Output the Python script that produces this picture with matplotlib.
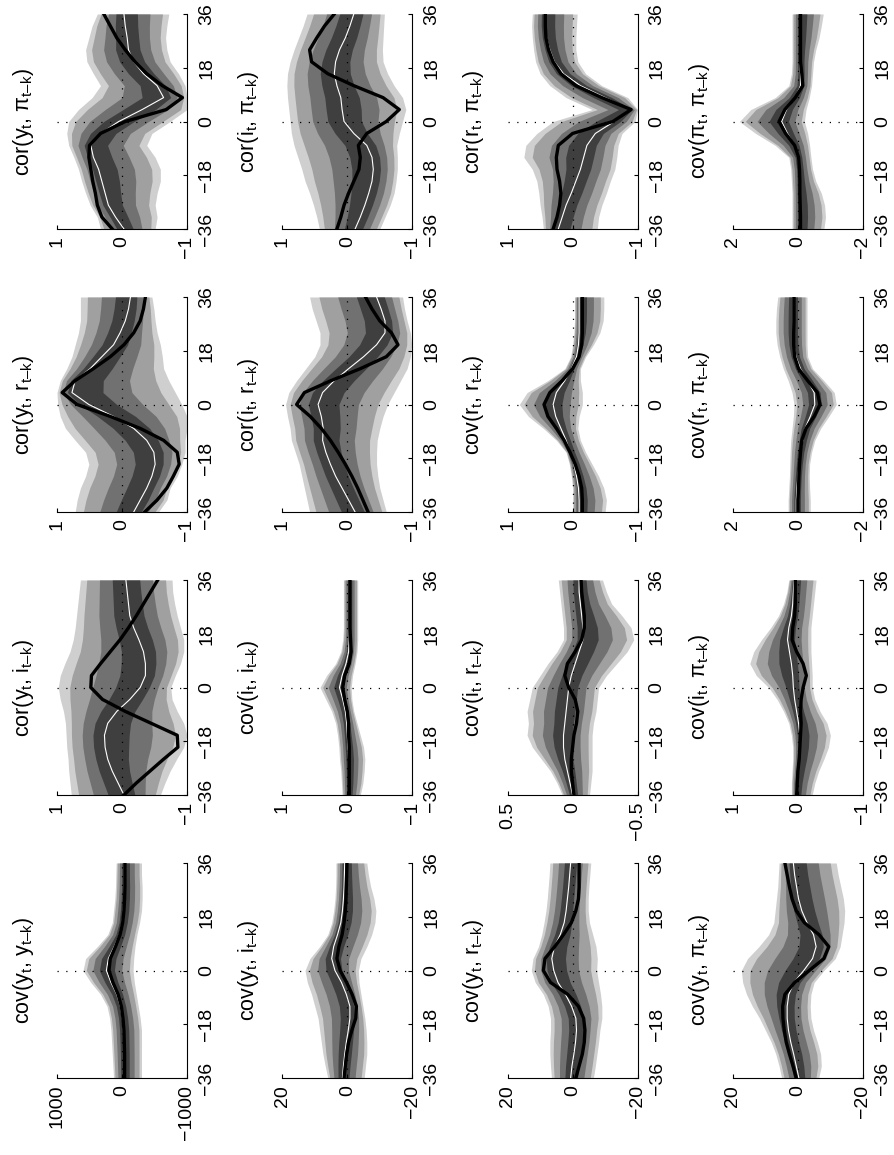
import matplotlib
matplotlib.use('Agg')
import matplotlib.pyplot as plt
import numpy as np

plt.rcParams['font.family'] = ['Liberation Sans', 'DejaVu Sans']
plt.rcParams['mathtext.fontset'] = 'custom'
plt.rcParams['mathtext.rm'] = 'Liberation Sans'
plt.rcParams['mathtext.it'] = 'Liberation Sans'
plt.rcParams['mathtext.default'] = 'regular'

# lag grid (k), shared by every panel
lags = [-36, -32, -28, -24, -20, -16, -12, -8, -4, 0, 4, 8, 12, 16, 20, 24, 28, 32, 36]

# ---- first column of the page: y with the others ----
cor_y_pi_black = [0.15, 0.31, 0.38, 0.41, 0.45, 0.48, 0.51, 0.50, 0.33, -0.05, -0.68, -0.93, -0.62, -0.38, -0.20, -0.05, 0.08, 0.18, 0.28]
cor_y_pi_median = [-0.03, 0.10, 0.21, 0.26, 0.31, 0.36, 0.44, 0.48, 0.33, 0.05, -0.31, -0.64, -0.54, -0.33, -0.18, -0.10, -0.08, -0.05, -0.03]
cor_y_pi_high = [0.33, 0.38, 0.49, 0.56, 0.62, 0.67, 0.74, 0.82, 0.85, 0.82, 0.67, 0.46, 0.33, 0.44, 0.54, 0.56, 0.51, 0.46, 0.38]
cor_y_pi_low = [-0.51, -0.54, -0.51, -0.54, -0.59, -0.59, -0.51, -0.38, -0.46, -0.74, -1.0, -1.0, -0.97, -0.87, -0.74, -0.69, -0.67, -0.69, -0.72]

cor_y_r_black = [-0.35, -0.54, -0.69, -0.79, -0.88, -0.85, -0.64, -0.28, 0.18, 0.69, 0.92, 0.72, 0.44, 0.18, -0.03, -0.18, -0.28, -0.33, -0.36]
cor_y_r_median = [-0.18, -0.28, -0.38, -0.46, -0.51, -0.49, -0.38, -0.18, 0.13, 0.51, 0.77, 0.72, 0.49, 0.31, 0.13, 0.03, -0.05, -0.10, -0.13]
cor_y_r_high = [0.72, 0.69, 0.64, 0.56, 0.51, 0.56, 0.72, 0.87, 0.95, 0.99, 1.0, 0.95, 0.85, 0.77, 0.72, 0.67, 0.64, 0.64, 0.64]
cor_y_r_low = [-0.56, -0.69, -0.74, -0.85, -0.92, -0.97, -0.97, -1.0, -1.0, -0.92, -0.82, -0.72, -0.64, -0.62, -0.59, -0.54, -0.51, -0.49, -0.46]

cor_y_i_black = [-0.03, -0.22, -0.43, -0.64, -0.86, -0.85, -0.45, -0.05, 0.30, 0.48, 0.47, 0.33, 0.18, 0.03, -0.10, -0.22, -0.33, -0.44, -0.55]
cor_y_i_median = [-0.03, 0.06, 0.15, 0.22, 0.26, 0.27, 0.22, 0.08, -0.12, -0.28, -0.36, -0.36, -0.33, -0.26, -0.18, -0.12, -0.10, -0.08, -0.06]
cor_y_i_high = [0.78, 0.80, 0.82, 0.83, 0.85, 0.86, 0.87, 0.90, 0.95, 0.98, 0.95, 0.88, 0.80, 0.75, 0.72, 0.70, 0.68, 0.66, 0.64]
cor_y_i_low = [-0.59, -0.66, -0.74, -0.84, -0.95, -1.0, -0.95, -0.85, -0.77, -0.75, -0.82, -0.90, -0.95, -0.95, -0.90, -0.85, -0.81, -0.78, -0.77]

cov_y_y_black = [-40, -40, -40, -35, -30, -15, 10, 60, 140, 200, 180, 100, 30, -10, -30, -40, -45, -45, -45]
cov_y_y_median = [-30, -30, -30, -25, -20, -5, 25, 80, 170, 240, 210, 120, 40, 0, -20, -30, -35, -35, -35]
cov_y_y_high = [130, 140, 150, 160, 170, 190, 230, 330, 480, 600, 560, 380, 220, 150, 130, 110, 100, 95, 90]
cov_y_y_low = [-300, -300, -300, -300, -300, -280, -250, -220, -190, -170, -180, -200, -230, -270, -300, -310, -310, -300, -300]

# ---- second column ----
cor_i_pi_black = [0.16, 0.10, 0.05, -0.02, -0.10, -0.18, -0.20, -0.17, -0.30, -0.60, -0.80, -0.55, -0.10, 0.30, 0.55, 0.58, 0.47, 0.35, 0.20]
cor_i_pi_median = [-0.12, -0.20, -0.27, -0.33, -0.38, -0.40, -0.38, -0.30, -0.10, 0.05, 0.08, 0.10, 0.16, 0.20, 0.18, 0.12, 0.03, -0.04, -0.10]
cor_i_pi_high = [0.43, 0.47, 0.52, 0.58, 0.65, 0.70, 0.76, 0.82, 0.86, 0.88, 0.90, 0.92, 0.93, 0.92, 0.88, 0.82, 0.75, 0.68, 0.62]
cor_i_pi_low = [-0.50, -0.58, -0.66, -0.72, -0.75, -0.77, -0.77, -0.76, -0.80, -0.85, -0.90, -0.85, -0.72, -0.62, -0.55, -0.54, -0.55, -0.56, -0.57]

cor_i_r_black = [-0.32, -0.24, -0.16, -0.07, 0.03, 0.14, 0.26, 0.40, 0.57, 0.78, 0.66, 0.25, -0.20, -0.60, -0.78, -0.68, -0.50, -0.38, -0.28]
cor_i_r_median = [-0.12, -0.02, 0.08, 0.18, 0.26, 0.33, 0.38, 0.37, 0.40, 0.45, 0.38, 0.20, -0.02, -0.25, -0.45, -0.58, -0.58, -0.52, -0.45]
cor_i_r_high = [0.58, 0.62, 0.66, 0.70, 0.74, 0.80, 0.86, 0.88, 0.92, 0.95, 0.90, 0.78, 0.64, 0.50, 0.42, 0.42, 0.48, 0.54, 0.58]
cor_i_r_low = [-0.60, -0.55, -0.50, -0.47, -0.45, -0.45, -0.46, -0.50, -0.55, -0.62, -0.72, -0.82, -0.92, -0.97, -0.99, -0.97, -0.92, -0.88, -0.85]

cov_i_i_black = [-0.03, -0.03, -0.03, -0.03, -0.03, -0.02, -0.02, 0.0, 0.04, 0.07, 0.04, -0.03, -0.06, -0.05, -0.04, -0.04, -0.04, -0.04, -0.04]
cov_i_i_median = [-0.02, -0.02, -0.02, -0.02, -0.01, 0.0, 0.01, 0.03, 0.07, 0.12, 0.08, 0.02, -0.02, -0.03, -0.03, -0.03, -0.03, -0.03, -0.03]
cov_i_i_high = [0.08, 0.09, 0.10, 0.12, 0.13, 0.15, 0.18, 0.24, 0.33, 0.42, 0.32, 0.18, 0.10, 0.07, 0.06, 0.06, 0.06, 0.06, 0.06]
cov_i_i_low = [-0.20, -0.24, -0.26, -0.27, -0.25, -0.20, -0.15, -0.10, -0.07, -0.06, -0.08, -0.12, -0.15, -0.16, -0.16, -0.16, -0.16, -0.16, -0.16]

cov_y_i_black = [1.0, 0.6, 0.2, -0.4, -1.4, -2.6, -2.8, -1.5, 0.2, 2.2, 3.2, 2.6, 1.6, 1.0, 0.6, 0.4, 0.3, 0.2, 0.1]
cov_y_i_median = [1.5, 1.2, 0.8, 0.3, -0.3, -0.8, -0.8, 0.3, 1.8, 3.8, 4.8, 4.2, 3.0, 2.0, 1.5, 1.2, 1.0, 0.9, 0.8]
cov_y_i_high = [6.0, 6.8, 7.5, 8.0, 8.5, 9.0, 10.0, 11.0, 12.3, 13.0, 11.5, 8.5, 6.0, 4.8, 4.2, 3.8, 3.6, 3.5, 3.5]
cov_y_i_low = [-5.2, -5.6, -6.0, -6.0, -5.8, -5.4, -4.8, -4.2, -3.6, -3.4, -4.2, -6.0, -7.5, -8.5, -8.8, -8.2, -7.2, -6.5, -6.0]

# ---- third column ----
cor_r_pi_black = [0.30, 0.24, 0.20, 0.18, 0.20, 0.24, 0.25, 0.22, 0.0, -0.62, -0.90, -0.45, -0.05, 0.18, 0.30, 0.37, 0.41, 0.42, 0.42]
cor_r_pi_median = [0.22, 0.16, 0.10, 0.02, -0.05, -0.12, -0.17, -0.22, -0.35, -0.64, -0.88, -0.50, -0.12, 0.14, 0.28, 0.35, 0.40, 0.42, 0.42]
cor_r_pi_high = [0.45, 0.47, 0.50, 0.52, 0.55, 0.62, 0.75, 0.72, 0.55, 0.30, -0.30, 0.10, 0.35, 0.50, 0.57, 0.60, 0.62, 0.63, 0.62]
cor_r_pi_low = [-0.38, -0.40, -0.45, -0.52, -0.58, -0.65, -0.68, -0.70, -0.76, -0.96, -1.0, -0.85, -0.45, -0.20, -0.08, -0.05, -0.05, -0.06, -0.07]

cov_r_r_black = [-0.15, -0.15, -0.14, -0.10, -0.04, 0.04, 0.13, 0.25, 0.38, 0.44, 0.35, 0.16, 0.0, -0.10, -0.14, -0.15, -0.15, -0.15, -0.15]
cov_r_r_median = [-0.10, -0.10, -0.09, -0.06, -0.02, 0.04, 0.10, 0.18, 0.26, 0.30, 0.25, 0.12, 0.02, -0.06, -0.09, -0.10, -0.10, -0.10, -0.10]
cov_r_r_high = [0.0, 0.0, 0.0, 0.02, 0.05, 0.10, 0.25, 0.45, 0.68, 0.82, 0.70, 0.38, 0.12, 0.03, 0.0, -0.02, -0.03, -0.03, -0.03]
cov_r_r_low = [-0.50, -0.52, -0.48, -0.40, -0.30, -0.20, -0.12, -0.08, -0.10, -0.15, -0.15, -0.12, -0.12, -0.20, -0.32, -0.42, -0.47, -0.48, -0.48]

cov_i_r_black = [-0.01, 0.0, 0.01, 0.01, 0.0, -0.01, -0.03, -0.04, -0.02, 0.03, 0.06, 0.04, -0.02, -0.07, -0.09, -0.09, -0.08, -0.07, -0.065]
cov_i_r_median = [0.0, 0.02, 0.04, 0.06, 0.07, 0.07, 0.06, 0.05, 0.04, 0.03, 0.01, -0.02, -0.05, -0.08, -0.08, -0.07, -0.06, -0.05, -0.05]
cov_i_r_high = [0.08, 0.12, 0.17, 0.24, 0.31, 0.35, 0.34, 0.35, 0.33, 0.31, 0.25, 0.19, 0.12, 0.07, 0.07, 0.08, 0.09, 0.10, 0.11]
cov_i_r_low = [-0.13, -0.14, -0.15, -0.15, -0.15, -0.15, -0.16, -0.18, -0.19, -0.20, -0.26, -0.34, -0.42, -0.47, -0.45, -0.38, -0.30, -0.26, -0.23]

cov_y_r_black = [-1.0, -2.0, -3.0, -3.6, -3.8, -3.4, -1.8, 1.5, 6.8, 9.0, 8.5, 5.5, 2.8, 0.4, -1.0, -1.8, -2.0, -2.0, -2.0]
cov_y_r_median = [0.6, 0.2, -0.4, -0.9, -1.2, -1.0, 0.3, 2.2, 4.5, 5.8, 6.4, 5.6, 3.8, 2.6, 2.0, 1.6, 1.2, 0.9, 0.6]
cov_y_r_high = [6.5, 6.8, 7.0, 7.0, 6.8, 6.8, 7.5, 9.0, 11.5, 12.7, 12.2, 10.5, 9.5, 8.8, 8.2, 7.8, 7.5, 7.2, 7.0]
cov_y_r_low = [-6.4, -7.0, -7.5, -8.0, -8.4, -9.0, -9.0, -8.6, -8.0, -7.4, -7.6, -7.2, -6.2, -5.2, -4.8, -4.8, -5.0, -5.3, -5.6]

# ---- fourth column ----
cov_pi_pi_black = [-0.08, -0.08, -0.07, -0.06, -0.06, -0.05, -0.02, 0.10, 0.38, 0.58, 0.40, 0.08, -0.15, -0.12, -0.08, -0.08, -0.08, -0.08, -0.08]
cov_pi_pi_median = [-0.06, -0.06, -0.06, -0.05, -0.05, -0.04, 0.0, 0.10, 0.32, 0.50, 0.35, 0.08, -0.08, -0.08, -0.06, -0.06, -0.06, -0.06, -0.06]
cov_pi_pi_high = [0.18, 0.18, 0.18, 0.18, 0.20, 0.22, 0.28, 0.70, 1.30, 1.80, 1.45, 0.70, 0.28, 0.20, 0.18, 0.18, 0.18, 0.18, 0.18]
cov_pi_pi_low = [-0.80, -0.85, -0.82, -0.72, -0.55, -0.45, -0.40, -0.36, -0.30, -0.20, -0.25, -0.35, -0.42, -0.45, -0.48, -0.55, -0.65, -0.72, -0.78]

cov_r_pi_black = [0.0, 0.0, -0.02, -0.03, -0.05, -0.08, -0.12, -0.25, -0.50, -0.68, -0.60, -0.30, -0.02, 0.10, 0.13, 0.13, 0.12, 0.12, 0.12]
cov_r_pi_median = [0.05, 0.05, 0.03, 0.0, -0.04, -0.08, -0.15, -0.22, -0.38, -0.52, -0.50, -0.30, -0.08, 0.06, 0.12, 0.14, 0.14, 0.14, 0.14]
cov_r_pi_high = [0.30, 0.30, 0.28, 0.26, 0.25, 0.24, 0.22, 0.18, 0.14, 0.12, 0.18, 0.30, 0.45, 0.56, 0.64, 0.68, 0.68, 0.66, 0.62]
cov_r_pi_low = [-0.38, -0.38, -0.36, -0.35, -0.36, -0.42, -0.52, -0.70, -0.95, -1.18, -1.12, -0.80, -0.45, -0.30, -0.28, -0.28, -0.28, -0.28, -0.28]

cov_i_pi_black = [0.02, 0.01, 0.0, -0.02, -0.03, -0.04, -0.05, -0.04, -0.05, -0.08, -0.13, -0.08, 0.02, 0.09, 0.08, 0.05, 0.04, 0.04, 0.04]
cov_i_pi_median = [0.03, 0.02, 0.0, -0.02, -0.03, -0.03, -0.01, 0.02, 0.05, 0.07, 0.08, 0.10, 0.13, 0.16, 0.14, 0.10, 0.08, 0.07, 0.06]
cov_i_pi_high = [0.10, 0.10, 0.09, 0.08, 0.08, 0.10, 0.14, 0.22, 0.32, 0.45, 0.64, 0.74, 0.68, 0.56, 0.42, 0.30, 0.22, 0.17, 0.14]
cov_i_pi_low = [-0.22, -0.26, -0.32, -0.40, -0.47, -0.50, -0.45, -0.34, -0.26, -0.22, -0.22, -0.21, -0.20, -0.20, -0.20, -0.22, -0.24, -0.26, -0.28]

cov_y_pi_black = [0.5, 1.5, 2.6, 3.6, 4.2, 4.6, 4.7, 4.0, 1.0, -3.5, -8.0, -9.5, -6.5, -2.0, 0.5, 1.8, 2.6, 3.3, 4.0]
cov_y_pi_median = [-0.3, 0.5, 1.3, 2.2, 2.9, 3.3, 3.3, 2.8, 1.2, -1.8, -4.5, -5.6, -4.8, -2.8, -1.2, -0.2, 0.4, 1.0, 1.4]
cov_y_pi_high = [5.0, 5.8, 6.8, 8.2, 10.0, 11.8, 14.0, 15.8, 17.0, 17.4, 15.5, 12.0, 9.0, 7.4, 7.0, 6.6, 6.2, 6.0, 5.8]
cov_y_pi_low = [-6.4, -7.2, -7.0, -6.0, -4.8, -4.0, -3.8, -4.0, -5.0, -8.0, -11.5, -13.0, -13.6, -14.2, -14.4, -14.0, -13.2, -12.4, -11.8]

# band shades, outermost first, and how far each reaches from the median
band_colors = ['#cfcfcf', '#a0a0a0', '#717171', '#3f3f3f']
band_reach = [1.0, 0.86, 0.58, 0.30]

SUB = '$_{t\u2013k}$'
panels = [
    # col, row, title, axis limit, black, median, low, high
    (0, 0, 'cor(y$_t$, $\\pi$' + SUB + ')', 1, cor_y_pi_black, cor_y_pi_median, cor_y_pi_low, cor_y_pi_high),
    (0, 1, 'cor(y$_t$, r' + SUB + ')', 1, cor_y_r_black, cor_y_r_median, cor_y_r_low, cor_y_r_high),
    (0, 2, 'cor(y$_t$, i' + SUB + ')', 1, cor_y_i_black, cor_y_i_median, cor_y_i_low, cor_y_i_high),
    (0, 3, 'cov(y$_t$, y' + SUB + ')', 1000, cov_y_y_black, cov_y_y_median, cov_y_y_low, cov_y_y_high),
    (1, 0, 'cor(i$_t$, $\\pi$' + SUB + ')', 1, cor_i_pi_black, cor_i_pi_median, cor_i_pi_low, cor_i_pi_high),
    (1, 1, 'cor(i$_t$, r' + SUB + ')', 1, cor_i_r_black, cor_i_r_median, cor_i_r_low, cor_i_r_high),
    (1, 2, 'cov(i$_t$, i' + SUB + ')', 1, cov_i_i_black, cov_i_i_median, cov_i_i_low, cov_i_i_high),
    (1, 3, 'cov(y$_t$, i' + SUB + ')', 20, cov_y_i_black, cov_y_i_median, cov_y_i_low, cov_y_i_high),
    (2, 0, 'cor(r$_t$, $\\pi$' + SUB + ')', 1, cor_r_pi_black, cor_r_pi_median, cor_r_pi_low, cor_r_pi_high),
    (2, 1, 'cov(r$_t$, r' + SUB + ')', 1, cov_r_r_black, cov_r_r_median, cov_r_r_low, cov_r_r_high),
    (2, 2, 'cov(i$_t$, r' + SUB + ')', 0.5, cov_i_r_black, cov_i_r_median, cov_i_r_low, cov_i_r_high),
    (2, 3, 'cov(y$_t$, r' + SUB + ')', 20, cov_y_r_black, cov_y_r_median, cov_y_r_low, cov_y_r_high),
    (3, 0, 'cov($\\pi_t$, $\\pi$' + SUB + ')', 2, cov_pi_pi_black, cov_pi_pi_median, cov_pi_pi_low, cov_pi_pi_high),
    (3, 1, 'cov(r$_t$, $\\pi$' + SUB + ')', 2, cov_r_pi_black, cov_r_pi_median, cov_r_pi_low, cov_r_pi_high),
    (3, 2, 'cov(i$_t$, $\\pi$' + SUB + ')', 1, cov_i_pi_black, cov_i_pi_median, cov_i_pi_low, cov_i_pi_high),
    (3, 3, 'cov(y$_t$, $\\pi$' + SUB + ')', 20, cov_y_pi_black, cov_y_pi_median, cov_y_pi_low, cov_y_pi_high),
]

W, H = 894, 1155
fig = plt.figure(figsize=(W / 100, H / 100), dpi=100)

k = np.array(lags)
for col, row, title, lim, black, median, low, high in panels:
    left = (57 + 225.3 * col) / W
    top = 14 + 283 * row
    ax = fig.add_axes([left, 1 - (top + 215) / H, 130 / W, 215 / H])

    med = np.array(median)
    lo = np.array(low)
    hi = np.array(high)
    for reach, shade in zip(band_reach, band_colors):
        ax.fill_betweenx(k, med - reach * (med - lo), med + reach * (hi - med),
                         color=shade, lw=0, zorder=1)

    ax.axvline(0, color='k', lw=0.9, ls=(0, (1, 6)), zorder=2)
    ax.axhline(0, color='k', lw=0.9, ls=(0, (1, 6)), zorder=2)
    ax.plot(median, k, color='white', lw=0.8, zorder=3)
    ax.plot(black, k, color='black', lw=2.4, zorder=4)

    # values grow to the left, lags run upward (page is turned)
    ax.set_xlim(lim, -lim)
    ax.set_ylim(-36, 36)
    ax.spines['top'].set_visible(False)
    ax.spines['left'].set_visible(False)
    for s in ('bottom', 'right'):
        ax.spines[s].set_linewidth(0.8)

    ax.yaxis.tick_right()
    ax.set_yticks([-36, -18, 0, 18, 36])
    ax.set_yticklabels(['\u221236', '\u221218', '0', '18', '36'], rotation=90, va='center')
    ax.set_xticks([lim, 0, -lim])
    ax.set_xticklabels([f'{lim:g}', '0', f'\u2212{lim:g}'], rotation=90)
    ax.tick_params(axis='y', direction='in', length=3, width=0.8, pad=8, labelsize=14)
    ax.tick_params(axis='x', direction='in', length=3, width=0.8, pad=5, labelsize=14)

    ax.text(-0.26, 0.5, title, transform=ax.transAxes, rotation=90,
            ha='center', va='center', fontsize=15.5)

fig.savefig('out.png', dpi=100)
